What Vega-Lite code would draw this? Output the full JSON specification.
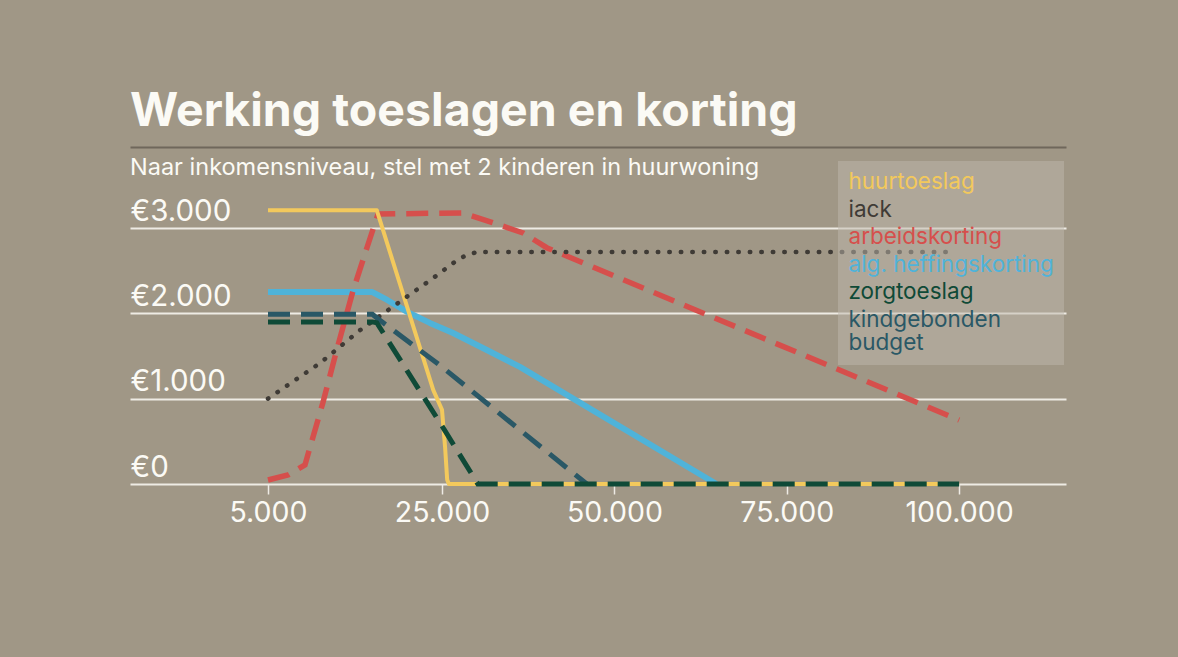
{
  "$schema": "https://vega.github.io/schema/vega-lite/v6.json",
  "autosize": {"type": "none"},
  "width": 936,
  "height": 337,
  "padding": {"left": 130, "top": 147, "right": 112, "bottom": 173},
  "background": "#a09786",
  "title": {
    "text": "Werking toeslagen en korting",
    "subtitle": "Naar inkomensniveau, stel met 2 kinderen in huurwoning",
    "anchor": "start",
    "frame": "group",
    "orient": "top",
    "offset": -32,
    "font": "Inter",
    "fontSize": 46.5,
    "fontWeight": "bold",
    "color": "#fbfaf5",
    "subtitleFont": "Inter",
    "subtitleFontSize": 23.5,
    "subtitleColor": "#fbfaf5",
    "subtitlePadding": 20
  },
  "config": {
    "view": {"stroke": null},
    "font": "Inter"
  },
  "data": {
    "values": [
      {"s": "alg. heffingskorting", "x": 5000, "y": 2250},
      {"s": "alg. heffingskorting", "x": 17000, "y": 2250},
      {"s": "alg. heffingskorting", "x": 18700, "y": 2157},
      {"s": "alg. heffingskorting", "x": 21000, "y": 2017},
      {"s": "alg. heffingskorting", "x": 23600, "y": 1888},
      {"s": "alg. heffingskorting", "x": 26600, "y": 1770},
      {"s": "alg. heffingskorting", "x": 31500, "y": 1571},
      {"s": "alg. heffingskorting", "x": 36300, "y": 1372},
      {"s": "alg. heffingskorting", "x": 64800, "y": 0},
      {"s": "arbeidskorting", "x": 5000, "y": 47},
      {"s": "arbeidskorting", "x": 7300, "y": 106},
      {"s": "arbeidskorting", "x": 9250, "y": 223},
      {"s": "arbeidskorting", "x": 11300, "y": 950},
      {"s": "arbeidskorting", "x": 12900, "y": 1571},
      {"s": "arbeidskorting", "x": 14800, "y": 2274},
      {"s": "arbeidskorting", "x": 16400, "y": 2778},
      {"s": "arbeidskorting", "x": 17650, "y": 3165},
      {"s": "arbeidskorting", "x": 28000, "y": 3177},
      {"s": "arbeidskorting", "x": 32000, "y": 3072},
      {"s": "arbeidskorting", "x": 36750, "y": 2943},
      {"s": "arbeidskorting", "x": 40250, "y": 2767},
      {"s": "arbeidskorting", "x": 100000, "y": 750},
      {"s": "huurtoeslag", "x": 5000, "y": 3210},
      {"s": "huurtoeslag", "x": 17500, "y": 3210},
      {"s": "huurtoeslag", "x": 24000, "y": 1100},
      {"s": "huurtoeslag", "x": 25000, "y": 870},
      {"s": "huurtoeslag", "x": 25450, "y": 430},
      {"s": "huurtoeslag", "x": 25750, "y": 50},
      {"s": "huurtoeslag", "x": 26000, "y": 0},
      {"s": "huurtoeslag", "x": 100000, "y": 0},
      {"s": "iack", "x": 5000, "y": 1000},
      {"s": "iack", "x": 11000, "y": 1418},
      {"s": "iack", "x": 15600, "y": 1805},
      {"s": "iack", "x": 20750, "y": 2180},
      {"s": "iack", "x": 24000, "y": 2415},
      {"s": "iack", "x": 27600, "y": 2649},
      {"s": "iack", "x": 30000, "y": 2719},
      {"s": "iack", "x": 98500, "y": 2719},
      {"s": "kindgebonden budget", "x": 5000, "y": 1990},
      {"s": "kindgebonden budget", "x": 17000, "y": 1990},
      {"s": "kindgebonden budget", "x": 17600, "y": 1940},
      {"s": "kindgebonden budget", "x": 25000, "y": 1372},
      {"s": "kindgebonden budget", "x": 46000, "y": 0},
      {"s": "zorgtoeslag", "x": 5000, "y": 1900},
      {"s": "zorgtoeslag", "x": 17000, "y": 1900},
      {"s": "zorgtoeslag", "x": 17500, "y": 1890},
      {"s": "zorgtoeslag", "x": 25000, "y": 680},
      {"s": "zorgtoeslag", "x": 30200, "y": 0},
      {"s": "zorgtoeslag", "x": 100000, "y": 0}
    ]
  },
  "encoding": {
    "y": {
      "field": "y",
      "type": "quantitative",
      "scale": {"domain": [0, 3950], "nice": false, "zero": true},
      "axis": {
        "title": null,
        "values": [0, 1000, 2000, 3000],
        "grid": true,
        "gridColor": "#eeebe4",
        "gridWidth": 2,
        "domain": false,
        "ticks": false,
        "tickSize": 0,
        "labelAlign": "left",
        "labelPadding": 0,
        "labelBaseline": "alphabetic",
        "labelOffset": -8,
        "labelFont": "Inter",
        "labelFontSize": 29.5,
        "labelColor": "#fbfaf5",
        "labelExpr": "'€' + replace(format(datum.value, ','), ',', '.')"
      }
    },
    "color": {
      "field": "s",
      "type": "nominal",
      "scale": {
        "domain": ["huurtoeslag", "iack", "arbeidskorting", "alg. heffingskorting", "zorgtoeslag", "kindgebonden budget"],
        "range": ["#f3c95c", "#3f3b36", "#d64f4c", "#4fb3d9", "#0f4a37", "#2a5866"]
      },
      "legend": {
        "orient": "none",
        "legendX": 708,
        "legendY": 14,
        "title": null,
        "fillColor": "rgba(190,184,172,0.5)",
        "padding": 10,
        "symbolSize": 0,
        "symbolStrokeWidth": 0,
        "symbolOpacity": 0,
        "labelOffset": -22,
        "labelFont": "Inter",
        "labelFontSize": 22.5,
        "labelLimit": 400,
        "rowPadding": 4.5,
        "labelExpr": "datum.label == 'kindgebonden budget' ? ['kindgebonden', 'budget'] : datum.label",
        "encode": {"labels": {"update": {"fill": {"signal": "scale('color', datum.value)"}, "lineHeight": {"value": 23}}}}
      }
    }
  },
  "resolve": {"axis": {"x": "independent"}},
  "layer": [
    {
      "transform": [{"filter": "datum.s == 'alg. heffingskorting'"}],
      "mark": {"type": "line", "strokeWidth": 6, "strokeJoin": "round"},
      "encoding": {
        "x": {
          "field": "x",
          "type": "quantitative",
          "scale": {"type": "linear", "domain": [0, 5000, 25000, 115500], "range": [0, 138, 312, 936], "nice": false, "zero": false},
          "axis": {
            "orient": "bottom",
            "title": null,
            "values": [5000, 25000, 50000, 75000, 100000],
            "grid": false,
            "domain": false,
            "ticks": true,
            "tickSize": 10,
            "tickWidth": 1.5,
            "tickColor": "#eeebe4",
            "labelPadding": 4,
            "labelFont": "Inter",
            "labelFontSize": 28.5,
            "labelColor": "#fbfaf5",
            "labelExpr": "replace(format(datum.value, ','), ',', '.')"
          }
        }
      }
    },
    {
      "transform": [{"filter": "datum.s == 'arbeidskorting'"}],
      "mark": {"type": "line", "strokeWidth": 5.5, "strokeDash": [22, 11]},
      "encoding": {
        "x": {
          "field": "x",
          "type": "quantitative",
          "axis": {
            "orient": "top",
            "title": null,
            "labels": false,
            "ticks": false,
            "grid": false,
            "domain": true,
            "domainColor": "#6f675b",
            "domainWidth": 2
          }
        }
      }
    },
    {
      "transform": [{"filter": "datum.s == 'huurtoeslag'"}],
      "mark": {"type": "line", "strokeWidth": 4, "strokeJoin": "round"},
      "encoding": {"x": {"field": "x", "type": "quantitative", "axis": null}}
    },
    {
      "transform": [{"filter": "datum.s == 'iack'"}],
      "mark": {"type": "line", "strokeWidth": 4.5, "strokeCap": "round", "strokeDash": [0.5, 11]},
      "encoding": {"x": {"field": "x", "type": "quantitative", "axis": null}}
    },
    {
      "transform": [{"filter": "datum.s == 'kindgebonden budget'"}],
      "mark": {"type": "line", "strokeWidth": 5, "strokeDash": [22, 11]},
      "encoding": {"x": {"field": "x", "type": "quantitative", "axis": null}}
    },
    {
      "transform": [{"filter": "datum.s == 'zorgtoeslag'"}],
      "mark": {"type": "line", "strokeWidth": 5, "strokeDash": [22, 11]},
      "encoding": {"x": {"field": "x", "type": "quantitative", "axis": null}}
    }
  ]
}
